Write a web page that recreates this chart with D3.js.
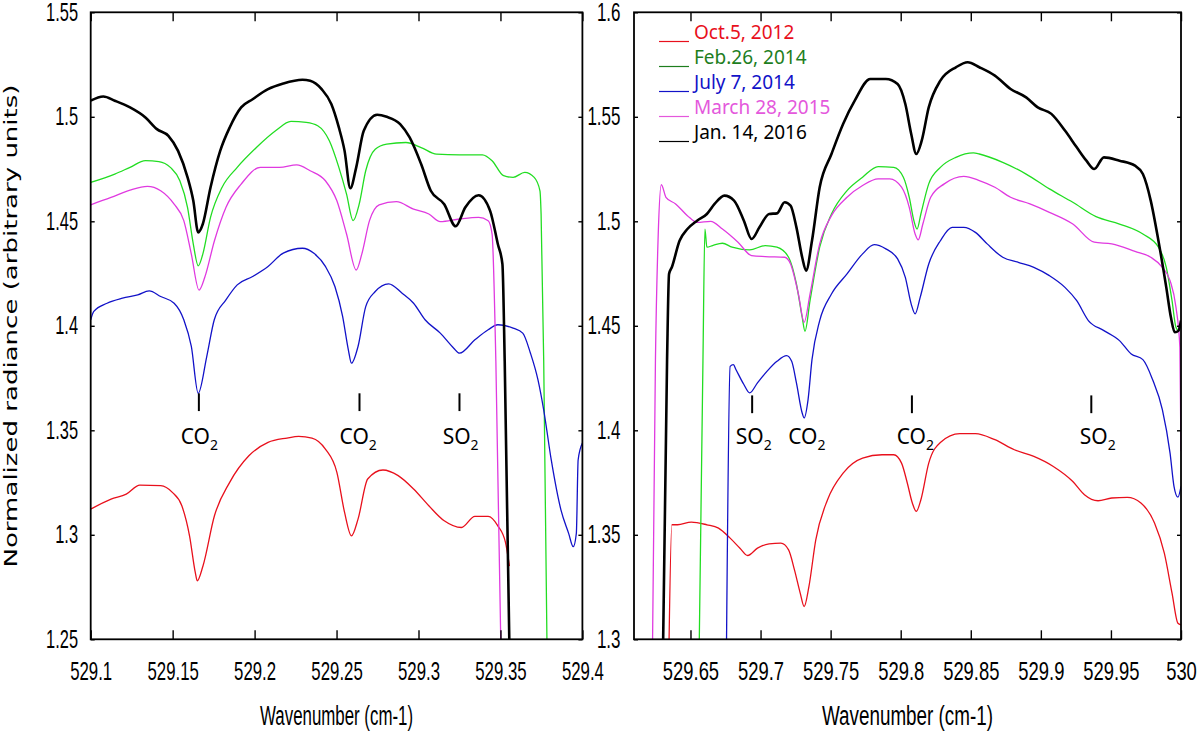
<!DOCTYPE html>
<html>
<head>
<meta charset="utf-8">
<script src="https://cdn.jsdelivr.net/npm/d3@7"></script>
<style>
  body { margin: 0; background: #fff; }
</style>
</head>
<body>
<div id="chart"></div>
<script>
// series names / colours
var seriesNames = ['Oct.5, 2012', 'Feb.26, 2014', 'July 7, 2014', 'March 28, 2015', 'Jan. 14, 2016'];
var lineColors = ['#e8101c', '#22dd22', '#1212c8', '#e03ae0', '#000000'];
var legendColors = ['#e8101c', '#1e7e1e', '#1212c8', '#e458dc', '#000000'];

// tick values
var leftXTicks = [529.1, 529.15, 529.2, 529.25, 529.3, 529.35, 529.4];
var leftXLabels = ['529.1', '529.15', '529.2', '529.25', '529.3', '529.35', '529.4'];
var leftYTicks = [1.25, 1.3, 1.35, 1.4, 1.45, 1.5, 1.55];
var leftYLabels = ['1.25', '1.3', '1.35', '1.4', '1.45', '1.5', '1.55'];
var rightXTicks = [529.65, 529.7, 529.75, 529.8, 529.85, 529.9, 529.95, 530];
var rightXLabels = ['529.65', '529.7', '529.75', '529.8', '529.85', '529.9', '529.95', '530'];
var rightYTicks = [1.3, 1.35, 1.4, 1.45, 1.5, 1.55, 1.6];
var rightYLabels = ['1.3', '1.35', '1.4', '1.45', '1.5', '1.55', '1.6'];

// left panel spectra [wavenumber, radiance]
var leftOct2012 = [[529.1,1.3123],[529.1124,1.3171],[529.1217,1.3195],[529.13,1.3238],[529.1427,1.3235],[529.1498,1.3203],[529.1556,1.3139],[529.1603,1.2995],[529.1638,1.282],[529.165,1.278],[529.1685,1.2851],[529.1755,1.3091],[529.1848,1.3251],[529.1965,1.3378],[529.2082,1.3442],[529.2198,1.3463],[529.2269,1.3471],[529.235,1.3463],[529.2432,1.341],[529.2502,1.3299],[529.2549,1.3107],[529.2591,1.2995],[529.2631,1.3075],[529.269,1.3267],[529.2783,1.331],[529.2876,1.3283],[529.297,1.3219],[529.3063,1.3139],[529.3157,1.3067],[529.3262,1.3035],[529.3344,1.3088],[529.3425,1.3088],[529.3484,1.3043],[529.3531,1.2963],[529.3555,1.285]];
var leftFeb2014 = [[529.1,1.4686],[529.1147,1.4726],[529.124,1.4758],[529.1334,1.479],[529.1416,1.4786],[529.1486,1.4758],[529.1544,1.4694],[529.1591,1.4566],[529.1626,1.4391],[529.1656,1.4287],[529.1684,1.4343],[529.1731,1.4519],[529.1801,1.4662],[529.1894,1.4758],[529.2011,1.4853],[529.2128,1.4933],[529.2222,1.4978],[529.2315,1.4973],[529.2385,1.4957],[529.2456,1.4885],[529.2514,1.4758],[529.2561,1.463],[529.2601,1.4503],[529.2638,1.4582],[529.2678,1.4742],[529.2736,1.4845],[529.2806,1.4869],[529.2923,1.4877],[529.3016,1.4853],[529.311,1.4821],[529.325,1.4818],[529.339,1.4818],[529.3449,1.479],[529.3519,1.4718],[529.3577,1.471],[529.3648,1.4734],[529.3706,1.471],[529.3741,1.4646],[529.3748,1.4535],[529.3764,1.383],[529.3785,1.24]];
var leftJul2014 = [[529.1,1.4029],[529.1019,1.4069],[529.11,1.4108],[529.1194,1.4132],[529.1287,1.4148],[529.1357,1.4167],[529.1427,1.414],[529.1509,1.4108],[529.1568,1.4029],[529.1614,1.3901],[529.1656,1.3677],[529.1708,1.3853],[529.1754,1.4029],[529.1825,1.4124],[529.1894,1.4196],[529.1988,1.4236],[529.2082,1.4284],[529.2175,1.4348],[529.2292,1.4371],[529.2362,1.4347],[529.2432,1.4284],[529.249,1.4188],[529.2537,1.4045],[529.2572,1.3885],[529.2591,1.3821],[529.2631,1.3901],[529.2678,1.4092],[529.2736,1.4164],[529.2818,1.4201],[529.29,1.4156],[529.297,1.4108],[529.304,1.4029],[529.3133,1.3965],[529.3215,1.3893],[529.325,1.3869],[529.3344,1.3933],[529.3425,1.3981],[529.3484,1.4005],[529.3577,1.3989],[529.3636,1.3965],[529.3683,1.3869],[529.3729,1.3741],[529.3764,1.3597],[529.381,1.3358],[529.3869,1.3119],[529.3916,1.3007],[529.3944,1.2943],[529.3963,1.3007],[529.3974,1.3358],[529.4,1.3439]];
var leftMar2015 = [[529.1,1.4579],[529.1124,1.4614],[529.124,1.4649],[529.1346,1.4667],[529.1427,1.4646],[529.1509,1.4582],[529.1568,1.4503],[529.1614,1.4343],[529.1661,1.4171],[529.1696,1.4232],[529.1755,1.4407],[529.1825,1.4566],[529.1918,1.4678],[529.2035,1.4758],[529.2152,1.4758],[529.2257,1.477],[529.2339,1.4742],[529.2432,1.4694],[529.2502,1.4598],[529.2561,1.4439],[529.262,1.4267],[529.2654,1.4343],[529.2701,1.4503],[529.276,1.4579],[529.2865,1.4594],[529.297,1.4558],[529.3063,1.4535],[529.3133,1.4498],[529.325,1.4511],[529.3367,1.4519],[529.3425,1.4503],[529.3449,1.4439],[529.3472,1.383],[529.3504,1.24]];
var leftJan2016 = [[529.1,1.5077],[529.1077,1.5097],[529.1147,1.5077],[529.124,1.5045],[529.1334,1.4997],[529.1404,1.4941],[529.1474,1.4909],[529.1533,1.4837],[529.1591,1.471],[529.1626,1.4598],[529.1656,1.4447],[529.1684,1.4487],[529.1731,1.4662],[529.179,1.4837],[529.1848,1.4949],[529.1918,1.5045],[529.1988,1.5084],[529.2082,1.5132],[529.2175,1.5159],[529.2292,1.5177],[529.2339,1.5172],[529.2409,1.5132],[529.2468,1.5061],[529.2514,1.4949],[529.2549,1.4837],[529.2584,1.4658],[529.262,1.4758],[529.2666,1.4933],[529.2748,1.501],[529.2806,1.5],[529.2888,1.4965],[529.2946,1.4901],[529.3016,1.4774],[529.3075,1.4646],[529.3157,1.4582],[529.3227,1.4476],[529.3285,1.4566],[529.3367,1.4625],[529.3437,1.455],[529.3484,1.4391],[529.3512,1.4295],[529.3526,1.383],[529.3556,1.24]];

// right panel spectra [wavenumber, radiance]
var rightOct2012 = [[529.6345,1.29],[529.6367,1.3548],[529.6408,1.3548],[529.6506,1.3561],[529.6617,1.3548],[529.67,1.3532],[529.6783,1.3484],[529.6853,1.3436],[529.6908,1.3401],[529.6978,1.3436],[529.7061,1.3457],[529.7145,1.346],[529.72,1.3428],[529.7242,1.3332],[529.7283,1.3221],[529.7311,1.3157],[529.7345,1.3252],[529.7394,1.3476],[529.7478,1.3668],[529.7589,1.3795],[529.7728,1.3867],[529.7867,1.3883],[529.795,1.3883],[529.8006,1.3843],[529.8047,1.3748],[529.8083,1.3652],[529.8111,1.3612],[529.8144,1.3668],[529.82,1.3843],[529.8283,1.3942],[529.8422,1.3984],[529.8533,1.3984],[529.8672,1.3955],[529.8811,1.3907],[529.895,1.3875],[529.9089,1.3827],[529.9228,1.3755],[529.9311,1.3692],[529.9408,1.3663],[529.9506,1.3676],[529.9617,1.3679],[529.9714,1.3652],[529.9811,1.3556],[529.9881,1.3412],[529.9936,1.3221],[529.9978,1.3077],[530,1.3069]];
var rightFeb2014 = [[529.6561,1.29],[529.6589,1.4333],[529.6603,1.4963],[529.6617,1.4876],[529.6658,1.4884],[529.6728,1.4895],[529.6797,1.4876],[529.6922,1.4863],[529.7033,1.4884],[529.7117,1.4876],[529.72,1.4828],[529.7256,1.47],[529.7297,1.4541],[529.7317,1.4474],[529.7353,1.462],[529.7422,1.4876],[529.7506,1.5035],[529.7617,1.5147],[529.7728,1.5211],[529.7839,1.5262],[529.795,1.5258],[529.8019,1.5211],[529.8061,1.5115],[529.8094,1.5003],[529.8117,1.4963],[529.8144,1.5035],[529.82,1.5179],[529.8283,1.5258],[529.8394,1.5306],[529.8519,1.5327],[529.8561,1.5322],[529.8728,1.5282],[529.8895,1.5226],[529.9061,1.5155],[529.9228,1.5091],[529.9394,1.5022],[529.9561,1.4987],[529.9728,1.4939],[529.9839,1.4876],[529.9895,1.478],[529.9936,1.462],[529.9964,1.4493],[529.9983,1.4477],[530,1.4525]];
var rightJul2014 = [[529.6756,1.29],[529.6783,1.4306],[529.6806,1.4314],[529.6825,1.429],[529.6881,1.4219],[529.6922,1.4179],[529.6978,1.4227],[529.7047,1.4283],[529.7117,1.433],[529.7186,1.4357],[529.7222,1.433],[529.7256,1.4227],[529.7297,1.4083],[529.7311,1.4059],[529.7339,1.4147],[529.7367,1.4338],[529.7422,1.4525],[529.7506,1.4652],[529.7617,1.4748],[529.7728,1.4844],[529.7811,1.4888],[529.7894,1.4868],[529.7978,1.482],[529.8033,1.4732],[529.8075,1.4604],[529.8103,1.4557],[529.8139,1.4636],[529.82,1.4796],[529.8283,1.4907],[529.8367,1.4971],[529.845,1.4971],[529.8533,1.4947],[529.8617,1.4892],[529.8728,1.4828],[529.8839,1.4804],[529.895,1.478],[529.9061,1.474],[529.9172,1.4684],[529.9256,1.462],[529.9339,1.4525],[529.945,1.4477],[529.9561,1.4429],[529.9645,1.4365],[529.9728,1.4338],[529.9797,1.4243],[529.9867,1.4099],[529.9922,1.3891],[529.995,1.3732],[529.9978,1.368],[530,1.3732]];
var rightMar2015 = [[529.6228,1.29],[529.625,1.4338],[529.627,1.494],[529.6292,1.5175],[529.6325,1.5115],[529.6394,1.5083],[529.6478,1.5027],[529.6547,1.4995],[529.6644,1.5],[529.6728,1.4963],[529.6839,1.49],[529.6936,1.4836],[529.7033,1.4831],[529.7172,1.4828],[529.7214,1.4796],[529.727,1.4652],[529.7311,1.4517],[529.7353,1.4652],[529.7422,1.4892],[529.7506,1.5027],[529.7617,1.5115],[529.7728,1.5171],[529.7839,1.5203],[529.7922,1.5203],[529.8006,1.5163],[529.8061,1.5067],[529.8103,1.4939],[529.8125,1.4911],[529.8158,1.4987],[529.8214,1.5115],[529.8311,1.5179],[529.845,1.5215],[529.8561,1.5195],[529.8672,1.5163],[529.8784,1.5115],[529.8922,1.5083],[529.9061,1.5043],[529.9228,1.4987],[529.9381,1.49],[529.9506,1.4892],[529.9672,1.4856],[529.9784,1.4828],[529.9867,1.478],[529.9922,1.4716],[529.9964,1.4589],[529.9992,1.4397],[530,1.39]];
var rightJan2016 = [[529.6303,1.29],[529.6333,1.4338],[529.6347,1.4748],[529.6367,1.478],[529.6422,1.4907],[529.6478,1.4963],[529.6547,1.5003],[529.6617,1.5035],[529.6672,1.5083],[529.6742,1.5123],[529.6811,1.5099],[529.6881,1.5003],[529.6936,1.4915],[529.6992,1.4971],[529.7061,1.5035],[529.7117,1.5038],[529.7172,1.5091],[529.7214,1.5075],[529.7256,1.4971],[529.7297,1.4828],[529.7325,1.4764],[529.7367,1.4907],[529.7422,1.5163],[529.7506,1.5322],[529.7589,1.5466],[529.7672,1.5577],[529.7783,1.5681],[529.7894,1.5681],[529.7978,1.5657],[529.8033,1.5561],[529.8075,1.5418],[529.8111,1.5322],[529.815,1.5386],[529.82,1.5545],[529.8283,1.5673],[529.8394,1.5737],[529.8478,1.5761],[529.8561,1.5737],[529.8672,1.5697],[529.8784,1.5633],[529.8895,1.5593],[529.8978,1.5545],[529.9075,1.5514],[529.9172,1.5434],[529.9256,1.5354],[529.9325,1.529],[529.9381,1.525],[529.945,1.5306],[529.9561,1.529],[529.9672,1.5266],[529.9728,1.5226],[529.9784,1.5099],[529.9839,1.4907],[529.9895,1.4684],[529.9928,1.4541],[529.9956,1.4469],[529.9983,1.4477],[530,1.4525]];

// absorption markers
var leftMarkX = [529.166, 529.264, 529.325];
var leftLabelX = [529.1663, 529.2632, 529.3257];
var leftLabels = ['CO', 'CO', 'SO'];
var rightMarkX = [529.694, 529.808, 529.936];
var rightLabelX = [529.6952, 529.733, 529.8105, 529.9406];
var rightLabels = ['SO', 'CO', 'CO', 'SO'];

var W = 1200, H = 733;
var numFont = '"Liberation Sans", Arial, sans-serif';
var svg = d3.select('#chart').append('svg')
  .attr('width', W)
  .attr('height', H);

var defs = svg.append('defs');

var drawPanel = function(p){
  var x = d3.scaleLinear().domain(p.xDomain).range([p.left, p.right]);
  var y = d3.scaleLinear().domain(p.yDomain).range([p.bottom, p.top]);
  var g = svg.append('g').attr('id', p.id);

  defs.append('clipPath').attr('id', 'clip_' + p.id)
    .append('rect')
    .attr('x', p.left).attr('y', p.top)
    .attr('width', p.right - p.left).attr('height', p.bottom - p.top);

  // spectra
  var line = d3.line()
    .curve(d3.curveMonotoneX)
    .x(function(d){ return x(d[0]); })
    .y(function(d){ return y(d[1]); });
  var plot = g.append('g').attr('clip-path', 'url(#clip_' + p.id + ')');
  p.series.forEach(function(s, i){
    plot.append('path')
      .datum(s)
      .attr('fill', 'none')
      .attr('stroke', lineColors[i])
      .attr('stroke-width', i == 4 ? 2.6 : 1.3)
      .attr('stroke-linejoin', 'round')
      .attr('d', line);
  });

  // axes, ticks point inward; narrow tall numbers
  var xb = d3.axisBottom(x).tickValues(p.xTicks)
    .tickFormat(function(d, i){ return p.xLabels[i]; })
    .tickSizeInner(-9).tickSizeOuter(0).tickPadding(18.3);
  var gx = g.append('g').attr('transform', 'translate(0,' + p.bottom + ')').call(xb);
  gx.selectAll('text').attr('transform', 'scale(' + p.sx + ',1.26)');

  var xt = d3.axisTop(x).tickValues(p.xTicks).tickFormat('')
    .tickSizeInner(-9).tickSizeOuter(0);
  g.append('g').attr('transform', 'translate(0,' + p.top + ')').call(xt);

  var yl = d3.axisLeft(y).tickValues(p.yTicks)
    .tickFormat(function(d, i){ return p.yLabels[i]; })
    .tickSizeInner(-4).tickSizeOuter(0).tickPadding(p.yPad / p.sy);
  var gy = g.append('g').attr('transform', 'translate(' + p.left + ',0)').call(yl);
  gy.selectAll('text').attr('transform', 'scale(' + p.sy + ',1.26)');

  var yr = d3.axisRight(y).tickValues(p.yTicks).tickFormat('')
    .tickSizeInner(-4).tickSizeOuter(0);
  g.append('g').attr('transform', 'translate(' + p.right + ',0)').call(yr);

  g.selectAll('.domain').remove();
  g.selectAll('.tick line').attr('stroke', '#000').attr('stroke-width', 1.4);
  g.selectAll('.tick text').attr('fill', '#000')
    .style('font-family', numFont).style('font-size', '20px');

  g.append('rect')
    .attr('x', p.left).attr('y', p.top)
    .attr('width', p.right - p.left).attr('height', p.bottom - p.top)
    .attr('fill', 'none').attr('stroke', '#000').attr('stroke-width', 1.8);

  // absorption markers
  p.markX.forEach(function(m){
    g.append('line')
      .attr('x1', x(m)).attr('x2', x(m))
      .attr('y1', y(p.markTop)).attr('y2', y(p.markTop - 0.0085))
      .attr('stroke', '#000').attr('stroke-width', 2);
  });
  p.labelX.forEach(function(m, i){
    var t = g.append('text')
      .attr('x', x(m)).attr('y', y(p.labelY))
      .attr('text-anchor', 'middle')
      .style('font-family', '"Noto Sans", "Open Sans", sans-serif')
      .style('font-size', '21px')
      .attr('fill', '#000')
      .text(p.labels[i]);
    t.append('tspan').attr('dy', 6).style('font-size', '14px').text('2');
  });

  // axis title
  g.append('text')
    .attr('x', (p.left + p.right) / 2)
    .attr('y', 725)
    .attr('text-anchor', 'middle')
    .attr('textLength', p.titleLen)
    .attr('lengthAdjust', 'spacingAndGlyphs')
    .style('font-family', numFont)
    .style('font-size', '27px')
    .text('Wavenumber (cm-1)');
};

drawPanel({
  id: 'left_panel', left: 90.7, right: 582.4, top: 12.3, bottom: 639.3,
  xDomain: [529.1, 529.4], yDomain: [1.25, 1.55],
  xTicks: leftXTicks, xLabels: leftXLabels, yTicks: leftYTicks, yLabels: leftYLabels,
  series: [leftOct2012, leftFeb2014, leftJul2014, leftMar2015, leftJan2016],
  markX: leftMarkX, markTop: 1.3677, labelX: leftLabelX, labels: leftLabels, labelY: 1.3435,
  titleLen: 153, sx: 0.84, sy: 0.82, yPad: 12.7
});

drawPanel({
  id: 'right_panel', left: 634, right: 1181, top: 12.3, bottom: 639.3,
  xDomain: [529.6097, 530], yDomain: [1.3, 1.6],
  xTicks: rightXTicks, xLabels: rightXLabels, yTicks: rightYTicks, yLabels: rightYLabels,
  series: [rightOct2012, rightFeb2014, rightJul2014, rightMar2015, rightJan2016],
  markX: rightMarkX, markTop: 1.4167, labelX: rightLabelX, labels: rightLabels, labelY: 1.3935,
  titleLen: 171, sx: 0.92, sy: 0.85, yPad: 13.5
});

// legend inside right panel
var legend = svg.append('g').attr('id', 'legend');
seriesNames.forEach(function(name, i){
  var yy = 39 + i * 25;
  legend.append('line')
    .attr('x1', 659).attr('x2', 689)
    .attr('y1', yy + 2.5).attr('y2', yy + 2.5)
    .attr('stroke', legendColors[i]).attr('stroke-width', 1.2);
  legend.append('text')
    .attr('x', 694).attr('y', yy)
    .style('font-family', '"Noto Sans", "Open Sans", sans-serif')
    .style('font-size', '19px')
    .attr('fill', legendColors[i])
    .text(name);
});

// shared y title
svg.append('text')
  .attr('transform', 'translate(17,326) rotate(-90)')
  .attr('text-anchor', 'middle')
  .attr('textLength', 483)
  .attr('lengthAdjust', 'spacingAndGlyphs')
  .style('font-family', '"DejaVu Sans", Verdana, sans-serif')
  .style('font-size', '18px')
  .attr('fill', '#000')
  .text('Normalized radiance (arbitrary units)');
</script>
</body>
</html>
